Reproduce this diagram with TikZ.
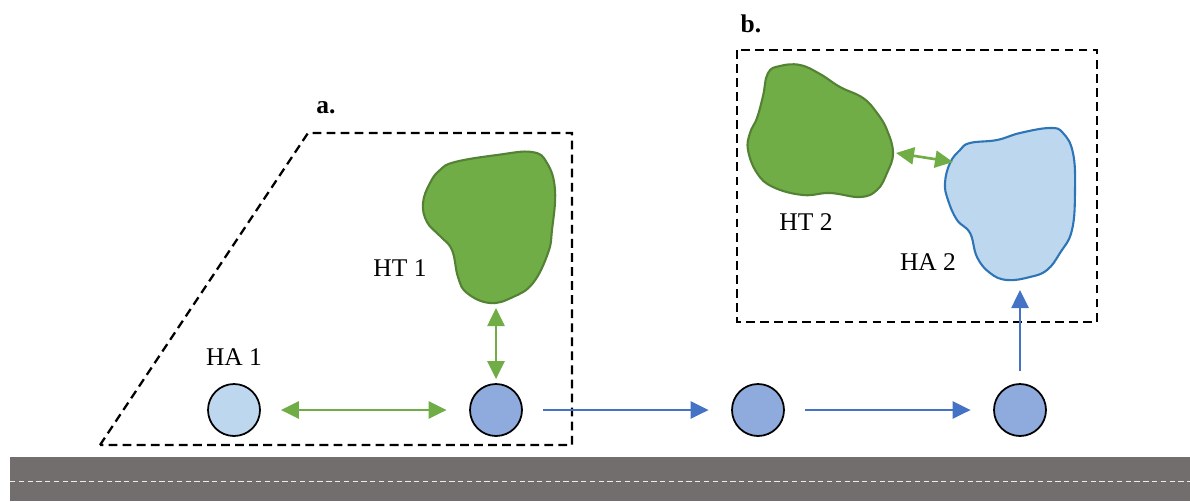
\documentclass[tikz,border=0pt]{standalone}
\usepackage{fontspec}
\setmainfont{Liberation Serif}
\usetikzlibrary{arrows.meta}

\definecolor{roadgray}{RGB}{115,110,110}
\definecolor{htgreen}{RGB}{112,173,71}
\definecolor{htborder}{RGB}{84,130,53}
\definecolor{halight}{RGB}{189,215,238}
\definecolor{hadark}{RGB}{143,170,220}
\definecolor{flowblue}{RGB}{68,114,196}
\definecolor{haborder}{RGB}{46,117,182}

\tikzset{
	hanode/.style={shape=circle,draw=black,line width=1pt,minimum size=1.04cm,inner sep=0pt},
	greenarrow/.style={color=htgreen,line width=1.5pt,{Triangle[length=0.36cm,width=0.34cm]}-{Triangle[length=0.36cm,width=0.34cm]}},
	bluearrow/.style={color=flowblue,line width=1.5pt,-{Triangle[length=0.36cm,width=0.34cm]}},
	areabox/.style={draw=black,line width=1.3pt,dash pattern=on 5pt off 3pt},
	lbl/.style={font=\fontsize{14.5}{17}\selectfont}
}

\begin{document}
\begin{tikzpicture}[x=0.02cm,y=-0.02cm]
	\useasboundingbox (0,0) rectangle (1190,501);
	% road
	\fill[roadgray] (10,457) rectangle (1190,501);
	\draw[white!85!gray,line width=0.5pt,dash pattern=on 3pt off 2pt] (10,481) -- (1190,481);
	% dashed areas
	\draw[areabox] (100,445) -- (308,133) -- (572,133) -- (572,445) -- cycle;
	\draw[areabox] (737,50) rectangle (1097,322);
	\node[font=\fontsize{14.5}{17}\selectfont\bfseries] (a) at (326,108) {a.};
	\node[font=\fontsize{14.5}{17}\selectfont\bfseries] (b) at (751,24) {b.};
	% habitat patches
	\draw[htborder,fill=htgreen,line width=1.2pt] plot[smooth cycle,tension=0.7] coordinates {
		(455,162) (497,155) (532,152) (547,163) (555,190) (552,230) (548,253)
		(533,283) (513,297) (490,303) (467,293) (458,277) (452,250) (440,236)
		(427,222) (423,203) (430,183) (440,170)};
	\draw[htborder,fill=htgreen,line width=1.2pt] plot[smooth cycle,tension=0.7] coordinates {
		(780,66) (800,65) (820,74) (840,87) (863,98) (877,113) (887,130)
		(893,153) (887,173) (877,190) (860,197) (830,193) (803,195) (773,187)
		(757,173) (748,150) (750,133) (757,118) (763,96) (768,73)};
	\draw[haborder,fill=halight,line width=1.2pt] plot[smooth cycle,tension=0.7] coordinates {
		(960,150) (970,143) (997,140) (1020,133) (1050,128) (1063,133) (1073,153)
		(1075,190) (1072,230) (1060,253) (1047,270) (1030,277) (1007,280) (990,273)
		(977,257) (970,233) (957,220) (948,200) (945,183) (950,163)};
	\coordinate (ht1) at (496,308);
	\coordinate (ht2) at (896,153);
	\coordinate (ha2) at (953,162);
	\coordinate (ha2in) at (1020,290);
	\node[lbl] (l1) at (400,268) {HT 1};
	\node[lbl] (l2) at (806,222) {HT 2};
	\node[lbl] (l3) at (928,262) {HA 2};
	\node[lbl] (l4) at (234,357) {HA 1};
	% stepping stones
	\node[hanode,fill=halight] (p1) at (234,410) {};
	\node[hanode,fill=hadark]  (p2) at (496,410) {};
	\node[hanode,fill=hadark]  (p3) at (758,410) {};
	\node[hanode,fill=hadark]  (p4) at (1020,410) {};
	\path[greenarrow] (p1) edge[shorten <=0.4cm,shorten >=0.45cm] (p2);
	\path[greenarrow] (p2) edge[shorten <=0.08cm] (ht1);
	\path[greenarrow] (ht2) edge (ha2);
	\path[bluearrow] (p2) edge[shorten <=0.4cm,shorten >=0.45cm] (p3);
	\path[bluearrow] (p3) edge[shorten <=0.4cm,shorten >=0.45cm] (p4);
	\path[bluearrow] (p4) edge[shorten <=0.24cm] (ha2in);
\end{tikzpicture}
\end{document}
